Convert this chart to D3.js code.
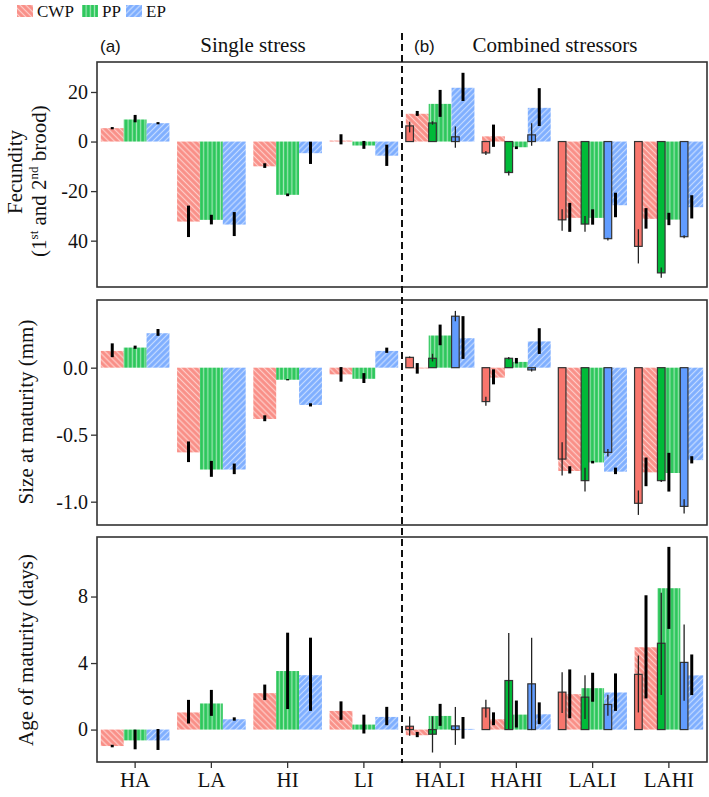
<!DOCTYPE html>
<html lang="en">
<head>
  <meta charset="UTF-8">
  <title>Stress responses</title>
  <script src="https://d3js.org/d3.v7.min.js"></script>
  <style>
    body { margin: 0; background: #fff; }
    .axis text { font-family: "Liberation Serif", serif; font-size: 20px; fill: #111; }
    .axis line { stroke: #333; stroke-width: 1.3; }
    .axis path { display: none; }
    .title { font-family: "Liberation Serif", serif; font-size: 21px; fill: #111; }
    .tag { font-family: "Liberation Sans", sans-serif; font-size: 17px; fill: #111; }
  </style>
</head>
<body>
<svg id="chart"></svg>
<script>
  // categories and series
  const categories = ["HA", "LA", "HI", "LI", "HALI", "HAHI", "LALI", "LAHI"];
  const combined = ["HALI", "HAHI", "LALI", "LAHI"];
  const series = ["CWP", "PP", "EP"];
  const colors = ["#F8766D", "#00BA38", "#619CFF"];

  // observed (hatched) bars: per category, per series [mean, err end 1, err end 2]
  const fecundityObs = [
    [[5.4, 5.2, 5.6], [8.9, 8.0, 10.5], [7.4, 7.2, 7.6]],
    [[-32.3, -26.1, -38.3], [-31.6, -29.8, -33.2], [-33.5, -28.7, -37.9]],
    [[-10.0, -9.0, -10.4], [-21.5, -21.2, -21.8], [-4.7, -0.3, -8.8]],
    [[0.4, 2.7, -0.9], [-1.6, 0.0, -2.7], [-5.7, -1.5, -9.6]],
    [[11.2, 12.1, 10.6], [15.2, 20.6, 10.2], [21.7, 27.5, 16.6]],
    [[2.1, 6.6, -1.9], [-2.3, -2.2, -2.8], [13.6, 21.3, 6.5]],
    [[-30.8, -25.0, -36.2], [-30.8, -27.6, -33.3], [-25.7, -20.9, -30.3]],
    [[-31.2, -27.1, -34.9], [-31.5, -29.0, -33.5], [-26.5, -21.9, -30.8]]
  ];
  // expected (solid) bars for the combined stressors
  const fecundityExp = [
    [[6.3, 7.8, 3.9], [7.5, 8.0, 7.0], [1.9, 5.9, -2.3]],
    [[-4.6, -4.0, -5.2], [-12.5, -12.0, -13.5], [2.7, 7.2, -1.5]],
    [[-31.6, -27.5, -35.8], [-33.3, -30.2, -36.2], [-39.2, -39.0, -39.7]],
    [[-42.3, -35.6, -49.0], [-53.0, -51.0, -54.8], [-38.4, -38.0, -38.8]]
  ];

  const sizeObs = [
    [[0.125, 0.177, 0.083], [0.15, 0.16, 0.145], [0.257, 0.284, 0.242]],
    [[-0.632, -0.555, -0.70], [-0.76, -0.70, -0.81], [-0.76, -0.72, -0.79]],
    [[-0.383, -0.36, -0.395], [-0.09, -0.09, -0.09], [-0.278, -0.27, -0.285]],
    [[-0.05, 0.0, -0.10], [-0.083, -0.045, -0.11], [0.125, 0.145, 0.115]],
    [[-0.005, 0.03, -0.04], [0.24, 0.317, 0.172], [0.22, 0.38, 0.07]],
    [[-0.074, -0.017, -0.12], [0.043, 0.068, 0.036], [0.196, 0.29, 0.107]],
    [[-0.771, -0.74, -0.785], [-0.707, -0.70, -0.71], [-0.776, -0.75, -0.79]],
    [[-0.781, -0.675, -0.88], [-0.786, -0.64, -0.92], [-0.69, -0.665, -0.71]]
  ];
  const sizeExp = [
    [[0.077, 0.08, 0.075], [0.07, 0.10, 0.05], [0.384, 0.42, 0.35]],
    [[-0.253, -0.22, -0.28], [0.07, 0.075, 0.065], [-0.017, -0.01, -0.025]],
    [[-0.682, -0.56, -0.80], [-0.843, -0.75, -0.92], [-0.632, -0.61, -0.66]],
    [[-1.012, -0.92, -1.095], [-0.843, -0.84, -0.85], [-1.035, -0.985, -1.085]]
  ];

  const ageObs = [
    [[-0.99, -0.95, -1.03], [-0.65, -0.04, -1.15], [-0.65, 0.0, -1.19]],
    [[1.03, 1.75, 0.40], [1.57, 2.35, 0.86], [0.62, 0.70, 0.57]],
    [[2.19, 2.67, 1.81], [3.52, 5.79, 1.27], [3.27, 5.49, 1.16]],
    [[1.12, 1.66, 0.62], [0.30, 0.86, -0.20], [0.76, 1.33, 0.30]],
    [[-0.34, -0.18, -0.42], [0.82, 1.51, 0.26], [0.04, 0.72, -0.51]],
    [[0.62, 1.00, 0.30], [0.90, 1.71, 0.16], [0.92, 1.60, 0.36]],
    [[2.13, 3.58, 0.72], [2.49, 3.38, 1.71], [2.23, 3.34, 1.16]],
    [[4.95, 8.04, 1.91], [8.50, 10.95, 6.09], [3.26, 4.48, 2.11]]
  ];
  const ageExp = [
    [[0.20, 0.76, -0.34], [-0.28, 0.76, -1.35], [0.22, 1.33, -0.89]],
    [[1.30, 1.77, 0.76], [2.95, 5.77, 0.06], [2.75, 5.49, 0.0]],
    [[2.25, 3.41, 1.03], [1.95, 3.23, 0.66], [1.51, 2.07, 0.86]],
    [[3.32, 4.42, 1.06], [5.19, 8.20, 2.11], [4.04, 6.29, 1.77]]
  ];

  // tick values and labels
  const fecundityTicks = [20, 0, -20, -40];
  const fecundityTickLabels = ["20", "0", "-20", "40"];
  const sizeTicks = [0, -0.5, -1];
  const sizeTickLabels = ["0.0", "-0.5", "-1.0"];
  const ageTicks = [8, 4, 0];
  const ageTickLabels = ["8", "4", "0"];

  const width = 709, height = 797;
  const left = 97, right = 707;

  const svg = d3.select("#chart").attr("width", width).attr("height", height);

  // hatch patterns
  const defs = svg.append("defs");
  const rot = [-45, 0, 45];
  series.forEach((s, i) => {
    const p = defs.append("pattern")
      .attr("id", "pat-" + s)
      .attr("patternUnits", "userSpaceOnUse")
      .attr("width", 4.2).attr("height", 4.2)
      .attr("patternTransform", "rotate(" + rot[i] + ")");
    p.append("rect").attr("width", 4.2).attr("height", 4.2)
      .attr("fill", colors[i]).attr("fill-opacity", 0.82);
    p.append("line").attr("x1", 2.1).attr("x2", 2.1).attr("y1", 0).attr("y2", 4.2)
      .attr("stroke", "#fff").attr("stroke-opacity", 0.55).attr("stroke-width", 1.2);
  });

  const x = d3.scaleBand().domain(categories).range([left, right])
    .paddingInner(0.1).paddingOuter(0.05);
  const x1 = d3.scaleBand().domain(series).range([0, x.bandwidth()]);

  const panels = [
    {top: 62, bottom: 287, domain: [-58.7, 32.1], obs: fecundityObs, exp: fecundityExp,
     ticks: fecundityTicks, labels: fecundityTickLabels},
    {top: 300, bottom: 525, domain: [-1.174, 0.505], obs: sizeObs, exp: sizeExp,
     ticks: sizeTicks, labels: sizeTickLabels},
    {top: 537, bottom: 762, domain: [-1.95, 11.58], obs: ageObs, exp: ageExp,
     ticks: ageTicks, labels: ageTickLabels}
  ];

  panels.forEach((p, pi) => {
    const y = d3.scaleLinear().domain(p.domain).range([p.bottom, p.top]);
    const g = svg.append("g");

    const obsRows = [];
    categories.forEach((c, i) => series.forEach((s, j) => {
      const r = p.obs[i][j];
      obsRows.push({cat: c, ser: s, j: j, v: r[0], a: r[1], b: r[2]});
    }));
    const expRows = [];
    combined.forEach((c, i) => series.forEach((s, j) => {
      const r = p.exp[i][j];
      expRows.push({cat: c, ser: s, j: j, v: r[0], a: r[1], b: r[2]});
    }));

    const sw = x1.bandwidth() / 3;

    g.selectAll(".obs").data(obsRows).join("rect")
      .attr("class", "obs")
      .attr("x", d => x(d.cat) + x1(d.ser))
      .attr("width", x1.bandwidth())
      .attr("y", d => y(Math.max(0, d.v)))
      .attr("height", d => Math.max(0.8, Math.abs(y(d.v) - y(0))))
      .attr("fill", d => "url(#pat-" + d.ser + ")");

    g.selectAll(".exp").data(expRows).join("rect")
      .attr("class", "exp")
      .attr("x", d => x(d.cat) + x1(d.ser))
      .attr("width", sw)
      .attr("y", d => y(Math.max(0, d.v)))
      .attr("height", d => Math.abs(y(d.v) - y(0)))
      .attr("fill", d => colors[d.j])
      .attr("stroke", "#333")
      .attr("stroke-width", 1.2);

    // thick error bars on observed bars
    g.selectAll(".eobs").data(obsRows).join("line")
      .attr("class", "eobs")
      .attr("x1", d => x(d.cat) + x1(d.ser) + x1.bandwidth() / 2)
      .attr("x2", d => x(d.cat) + x1(d.ser) + x1.bandwidth() / 2)
      .attr("y1", d => y(d.a) + (d.a >= d.b ? -0.6 : 0.6))
      .attr("y2", d => y(d.b) + (d.a >= d.b ? 0.6 : -0.6))
      .attr("stroke", "#000").attr("stroke-width", 3);

    // thin error bars on expected bars
    g.selectAll(".eexp").data(expRows).join("line")
      .attr("class", "eexp")
      .attr("x1", d => x(d.cat) + x1(d.ser) + sw / 2)
      .attr("x2", d => x(d.cat) + x1(d.ser) + sw / 2)
      .attr("y1", d => y(d.a) + (d.a >= d.b ? -0.5 : 0.5))
      .attr("y2", d => y(d.b) + (d.a >= d.b ? 0.5 : -0.5))
      .attr("stroke", "#222").attr("stroke-width", 1.3);

    const yAxis = d3.axisLeft(y).tickValues(p.ticks).tickSize(6).tickPadding(3)
      .tickFormat((d, i) => p.labels[i]);
    svg.append("g").attr("class", "axis")
      .attr("transform", "translate(" + left + ",0)")
      .call(yAxis);

    svg.append("rect")
      .attr("x", left).attr("y", p.top)
      .attr("width", right - left).attr("height", p.bottom - p.top)
      .attr("fill", "none").attr("stroke", "#333").attr("stroke-width", 1.6);

    if (pi === panels.length - 1) {
      svg.append("g").attr("class", "axis x")
        .attr("transform", "translate(0," + p.bottom + ")")
        .call(d3.axisBottom(x).tickSize(6).tickPadding(4))
        .selectAll("text").style("font-size", "21px");
    }
  });

  // divider between single and combined stress
  const divX = (x("LI") + x.bandwidth() + x("HALI")) / 2;
  svg.append("line")
    .attr("x1", divX).attr("x2", divX)
    .attr("y1", 33).attr("y2", 763)
    .attr("stroke", "#111").attr("stroke-width", 2)
    .attr("stroke-dasharray", "7,4");

  // header texts
  svg.append("text").attr("class", "tag").attr("x", 100).attr("y", 52).text("(a)");
  svg.append("text").attr("class", "title").attr("x", 253).attr("y", 52)
    .attr("text-anchor", "middle").text("Single stress");
  svg.append("text").attr("class", "tag").attr("x", 414).attr("y", 52).text("(b)");
  svg.append("text").attr("class", "title").attr("x", 555).attr("y", 52)
    .attr("text-anchor", "middle").text("Combined stressors");

  // axis titles
  svg.append("text").attr("class", "title")
    .attr("transform", "translate(22,172) rotate(-90)")
    .attr("text-anchor", "middle").text("Fecundity");
  const t2 = svg.append("text").attr("class", "title")
    .attr("transform", "translate(46,181) rotate(-90)")
    .attr("text-anchor", "middle");
  t2.append("tspan").text("(1");
  t2.append("tspan").attr("dy", -8).style("font-size", "13px").text("st");
  t2.append("tspan").attr("dy", 8).text(" and 2");
  t2.append("tspan").attr("dy", -8).style("font-size", "13px").text("nd");
  t2.append("tspan").attr("dy", 8).text(" brood)");

  svg.append("text").attr("class", "title")
    .attr("transform", "translate(33,412) rotate(-90)")
    .attr("text-anchor", "middle").text("Size at maturity (mm)");
  svg.append("text").attr("class", "title")
    .attr("transform", "translate(33,650) rotate(-90)")
    .attr("text-anchor", "middle").text("Age of maturity (days)");

  // legend
  const legX = [17, 82, 126];
  series.forEach((s, i) => {
    svg.append("rect").attr("x", legX[i]).attr("y", 5).attr("width", 16).attr("height", 12)
      .attr("fill", "url(#pat-" + s + ")");
    svg.append("text").attr("class", "title").style("font-size", "17px")
      .attr("x", legX[i] + 20).attr("y", 17).text(s);
  });
</script>
</body>
</html>
